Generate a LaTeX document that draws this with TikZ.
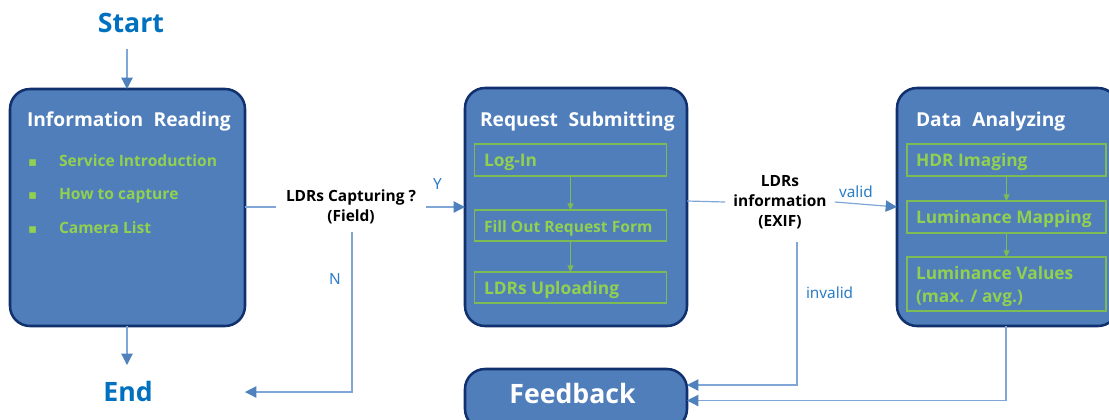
\documentclass[tikz,border=0pt]{standalone}
\usepackage{fontspec}
\usetikzlibrary{arrows.meta}
\setmainfont{Noto Sans}
\newfontfamily\boldf{Open Sans}
\definecolor{boxfill}{HTML}{4F7EBB}
\definecolor{boxline}{HTML}{10306E}
\definecolor{lgreen}{HTML}{92D050}
\definecolor{subline}{HTML}{7DBB55}
\definecolor{conn}{HTML}{7FA6D6}
\definecolor{tipblue}{HTML}{4F81BD}
\definecolor{lab}{HTML}{2A7CC7}
\definecolor{big}{HTML}{0070C0}
\newfontfamily\djvu{DejaVu Sans}
\newcommand{\wgap}{\hspace{0.55em}}
\tikzset{
  x=0.75pt,y=-0.75pt,
  bluebox/.style={draw=boxline,fill=boxfill,line width=1.9pt,rounded corners=15pt,inner sep=0pt,outer sep=0pt},
  subbox/.style={draw=subline,line width=0.9pt,inner sep=0pt,outer sep=0pt},
  txt/.style={anchor=base west,inner sep=0pt,outer sep=0pt},
  title/.style={txt,text=white,font=\boldf\bfseries\fontsize{14.4}{18}\selectfont},
  green/.style={txt,text=lgreen,font=\boldf\bfseries\fontsize{11.7}{16}\selectfont},
  greenlg/.style={txt,text=lgreen,font=\boldf\bfseries\fontsize{13}{16}\selectfont},
  bullet/.style={txt,text=lgreen,font=\djvu\fontsize{10}{12}\selectfont},
  bigw/.style={anchor=base,inner sep=0pt,text=big,font=\boldf\bfseries\fontsize{20}{24}\selectfont},
  lbl/.style={txt,text=lab,font=\fontsize{11.5}{13}\selectfont},
  question/.style={align=center,inner sep=0pt,outer sep=0pt,text=black,font=\boldf\bfseries\fontsize{11.6}{15}\selectfont},
  conn/.style={draw=conn,line width=0.9pt,-{Triangle[length=8.5pt,width=8.5pt,color=tipblue]}},
  plain/.style={draw=conn,line width=0.9pt},
  gconn/.style={draw=subline,line width=0.8pt,-{Triangle[length=5pt,width=4.5pt]}},
}
\begin{document}
\begin{tikzpicture}
\clip (0,0) rectangle (1109,419);
% main boxes
\node[bluebox,minimum width=176.25pt,minimum height=177.75pt] (info) at (127.5,207.5) {};
\node[bluebox,minimum width=166.5pt,minimum height=178.5pt] (req) at (576,207) {};
\node[bluebox,minimum width=165.75pt,minimum height=178.5pt] (data) at (1007.5,207) {};
\node[bluebox,minimum width=166.5pt,minimum height=45pt] (fb) at (576,399) {};
% sub boxes
\node[subbox,minimum width=144pt,minimum height=24pt] (login) at (570.5,160) {};
\node[subbox,minimum width=144pt,minimum height=23.25pt] (fill) at (570.5,225.5) {};
\node[subbox,minimum width=144pt,minimum height=23.25pt] (upl) at (570.5,287.5) {};
\node[subbox,minimum width=149.25pt,minimum height=24pt] (hdr) at (1006.5,160) {};
\node[subbox,minimum width=149.25pt,minimum height=24pt] (map) at (1006.5,217) {};
\node[subbox,minimum width=149.25pt,minimum height=40.5pt] (vals) at (1006.5,284) {};
% big labels
\node[bigw] (start) at (131,32) {Start};
\node[bigw] (endn) at (128,401) {End};
% titles
\node[title] (t1) at (27,126) {Information\wgap{}Reading};
\node[title] (t2) at (480,126) {Request\wgap{}Submitting};
\node[title] (t3) at (916,126) {Data\wgap{}Analyzing};
\node[anchor=base,inner sep=0pt,text=white,font=\boldf\bfseries\fontsize{20}{25}\selectfont] (t4) at (572.5,403) {Feedback};
% list
\node[bullet] (b1) at (28,166) {▪};
\node[bullet] (b2) at (28,199) {▪};
\node[bullet] (b3) at (28,233) {▪};
\node[green] (l1) at (59,166) {Service Introduction};
\node[green] (l2) at (59,199) {How to capture};
\node[green] (l3) at (59,233) {Camera List};
% sub labels
\node[greenlg] (s1) at (484,166) {Log-In};
\node[green] (s2) at (484,232) {Fill Out Request Form};
\node[greenlg] (s3) at (484,294) {LDRs Uploading};
\node[greenlg] (d1) at (916,166) {HDR Imaging};
\node[greenlg] (d2) at (916,223) {Luminance Mapping};
\node[greenlg] (d3) at (916,279) {Luminance Values};
\node[greenlg] (d4) at (916,302) {(max. / avg.)};
% questions
\node[question,minimum width=112.5pt,minimum height=37.5pt] (q1) at (351,207) {LDRs Capturing ?\\(Field)};
\node[question,minimum width=82.5pt,minimum height=60pt] (q2) at (780,202) {LDRs\\information\\(EXIF)};
% edge labels
\node[lbl] (y) at (433,189) {Y};
\node[lbl] (n) at (329,284) {N};
\node[lbl] (v) at (839,197) {valid};
\node[lbl] (iv) at (806,298) {invalid};
% free ends
\coordinate (a0) at (127,49);
\coordinate (a1) at (127,365);
\coordinate (e1) at (245,392);
\coordinate (c1) at (352,392);
\coordinate (c2) at (797,385);
\coordinate (c3) at (1006,400.5);
\coordinate (f1) at (687,385);
\coordinate (f2) at (687,400.5);
\coordinate (r1) at (687,201);
\coordinate (vin) at (897,207);
% connectors
\draw[conn] (a0) -- (a0 |- info.north);
\draw[conn] (a0 |- info.south) -- (a1);
\draw[plain] (q1.west -| info.east) -- (q1.west);
\draw[conn] (q1.east) -- (q1.east -| req.west);
\draw[conn] (c1 |- q1.south) -- (c1) -- (e1);
\draw[plain] (r1) -- (q2.west);
\draw[conn] (q2.east) -- (vin);
\draw[conn] (c2 |- q2.south) -- (c2) -- (f1);
\draw[conn] (c3 |- data.south) -- (c3) -- (f2);
\draw[gconn] (login.south) -- (fill.north);
\draw[gconn] (fill.south) -- (upl.north);
\draw[gconn] (hdr.south) -- (map.north);
\draw[gconn] (map.south) -- (vals.north);
\end{tikzpicture}
\end{document}
